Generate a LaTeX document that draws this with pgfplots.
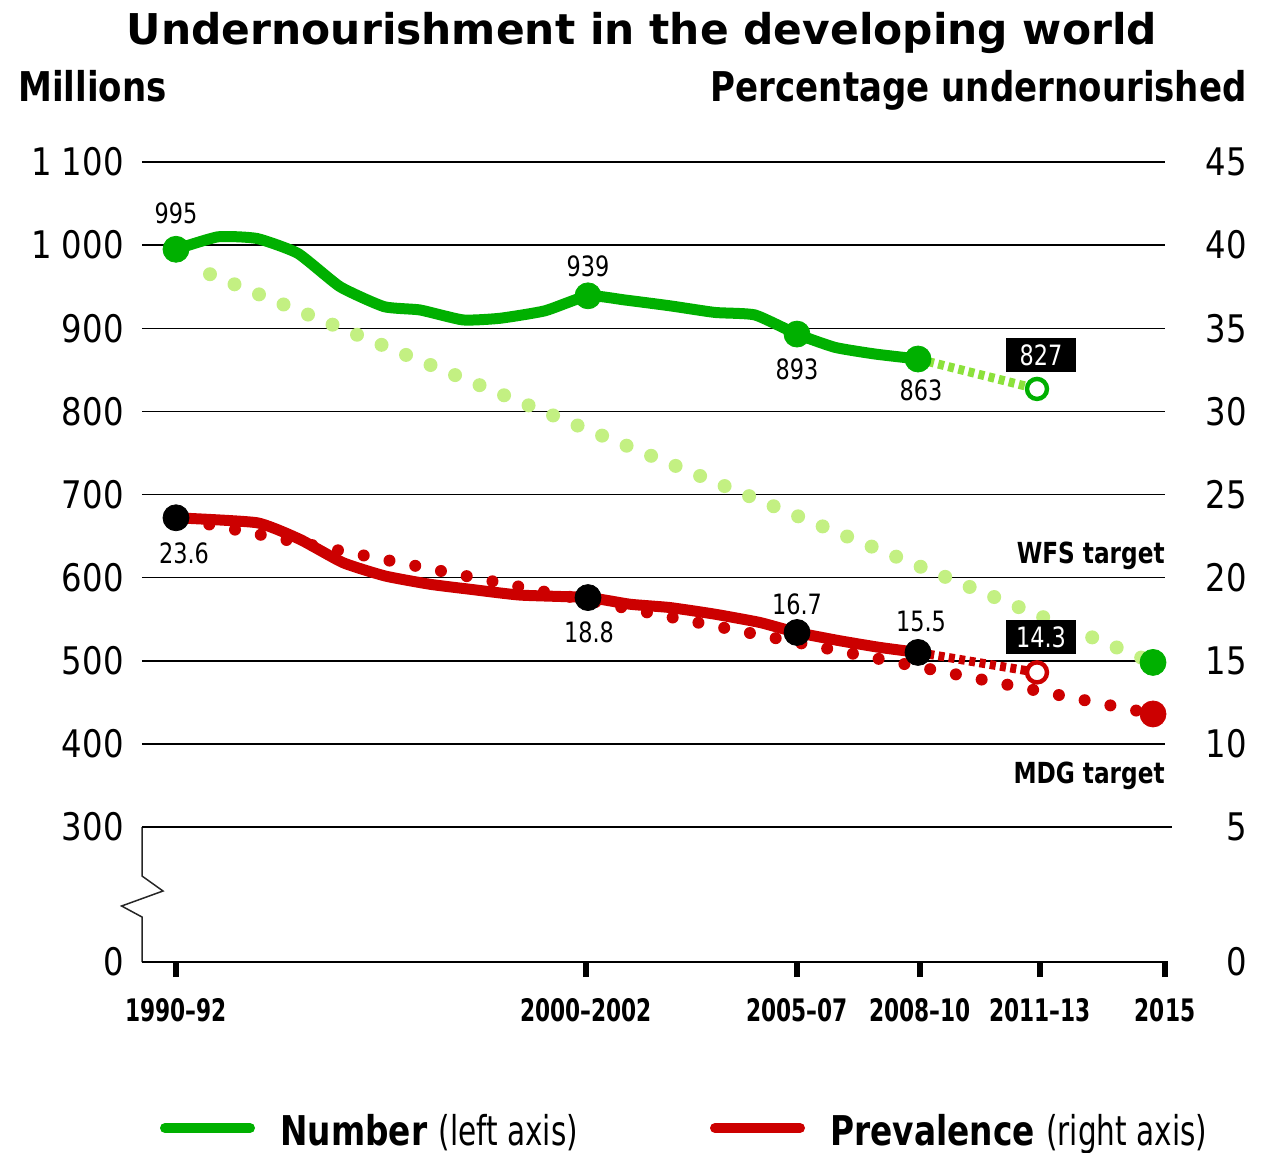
\documentclass[border=0pt]{standalone}
\usepackage{fontspec}
\setmainfont{DejaVu Sans}
\newfontfamily\tickf[FakeStretch=0.85]{DejaVu Sans}
\newfontfamily\lblf[FakeStretch=0.8]{DejaVu Sans}
\newfontfamily\xlf[FakeStretch=0.7]{DejaVu Sans}
\newfontfamily\ttlf[FakeStretch=0.83]{DejaVu Sans}
\newfontfamily\legrf[FakeStretch=0.72]{DejaVu Sans}
\usepackage{pgfplots}
\pgfplotsset{compat=1.18}
\definecolor{cgreen}{RGB}{0,176,0}
\definecolor{cred}{RGB}{204,0,0}
\definecolor{clight}{RGB}{195,240,130}
\definecolor{cproj}{RGB}{140,225,60}
\newcommand{\lbl}{\lblf\fontsize{14}{14}\selectfont}
\begin{document}
\begin{tikzpicture}
\path[use as bounding box] (-71pt,-95pt) rectangle (563pt,481pt);
\begin{axis}[
 at={(0pt,0pt)}, anchor=south west,
 width=511.5pt, height=400pt, scale only axis,
 xmin=142, xmax=1165, ymin=137.59, ymax=1100,
 axis line style={draw=none},
 ytick={137.59,300,400,500,600,700,800,900,1000,1100},
 yticklabels={0,300,400,500,600,700,800,900,1\hspace{0.25em}000,1\hspace{0.25em}100},
 ymajorgrids, grid style={black, line width=0.75pt},
 ytick style={draw=none},
 yticklabel style={anchor=east, inner sep=0pt, xshift=-1.5pt, font=\tickf\fontsize{19}{19}\selectfont},
 xtick={176,586,797,920,1040,1165},
 xticklabels={1990–92,2000–2002,2005–07,2008–10,2011–13,2015},
 xtick pos=left,
 tick align=outside,
 major tick length=7.5pt,
 xtick style={black, line width=3pt},
 xticklabel style={anchor=north, inner sep=0pt, yshift=-10.5pt, font=\xlf\bfseries\fontsize{15.5}{15.5}\selectfont},
 clip=false,
]
% WFS target path
\addplot[clight, line width=7pt, line cap=round, dash pattern=on 0pt off 13.25pt] coordinates {(210,965) (1153,498)};
% Number
\addplot[cgreen, line width=5.5pt, line join=round, line cap=round, smooth, tension=0.3] coordinates {
(176,995) (218,1010) (257,1008) (298,990) (340,950) (384,926) (420,922) (463,910) (500,912) (545,921) (588,939) (625,934) (670,927) (715,919) (755,916) (797,893) (835,877) (875,869) (918,863)};
\addplot[cproj, line width=4.5pt, dash pattern=on 3pt off 2.2pt] coordinates {(918,863) (1037,827)};
\addplot[only marks, mark=*, mark size=6.5pt, cgreen] coordinates {(176,995) (588,939) (797,893) (918,863) (1153,498)};
\addplot[only marks, mark=*, mark size=5pt, mark options={draw=cgreen, fill=white, line width=2.2pt}] coordinates {(1037,827)};
\end{axis}
\begin{axis}[
 at={(0pt,0pt)}, anchor=south west,
 width=511.5pt, height=400pt, scale only axis,
 xmin=142, xmax=1165, ymin=-3.1203, ymax=45,
 axis line style={draw=none},
 xtick=\empty,
 ytick={-3.1203,5,10,15,20,25,30,35,40,45},
 yticklabels={0,5,10,15,20,25,30,35,40,45},
 yticklabel pos=right,
 ytick style={draw=none},
 yticklabel style={anchor=east, inner sep=0pt, xshift=41pt, font=\tickf\fontsize{19}{19}\selectfont},
 clip=false,
]
% MDG target path
\addplot[cred, line width=6pt, line cap=round, dash pattern=on 0pt off 13.13pt, dash phase=9.3pt] coordinates {(176,23.6) (1153,11.8)};
% Prevalence
\addplot[cred, line width=5.5pt, line join=round, line cap=round, smooth, tension=0.3] coordinates {
(176,23.6) (257,23.3) (300,22.3) (343,20.9) (385,20.1) (430,19.6) (470,19.3) (520,18.95) (588,18.8) (630,18.4) (670,18.2) (715,17.8) (760,17.3) (797,16.7) (840,16.2) (880,15.8) (918,15.5)};
\addplot[cred, line width=4.5pt, dash pattern=on 3pt off 2.2pt] coordinates {(918,15.5) (1037,14.3)};
\addplot[only marks, mark=*, mark size=6.5pt, black] coordinates {(176,23.6) (588,18.8) (797,16.7) (918,15.5)};
\addplot[only marks, mark=*, mark size=6.5pt, cred] coordinates {(1153,11.8)};
\addplot[only marks, mark=*, mark size=5pt, mark options={draw=cred, fill=white, line width=2.2pt}] coordinates {(1037,14.3)};
\end{axis}
\begin{scope}[x=1pt, y=1pt]
% broken axis and base lines
\draw[black!85, line width=0.75pt, line join=miter] (0,67.5) -- (0,43) -- (10.5,35.5) -- (-10.2,28) -- (0,22.5) -- (0,0);
\draw[black, line width=0.75pt] (0,67.5) -- (515,67.5);
\draw[black, line width=0.75pt] (0,0) -- (513,0);
% value labels
\node[inner sep=0] at (17,374.5) {\lbl 995};
\node[inner sep=0] at (223,348) {\lbl 939};
\node[inner sep=0] at (327.5,296.5) {\lbl 893};
\node[inner sep=0] at (389.5,286) {\lbl 863};
\node[fill=black, text=white, inner sep=0, minimum width=35pt, minimum height=17pt] at (449.5,303.5) {\lbl 827};
\node[inner sep=0] at (21,204.5) {\lbl 23.6};
\node[inner sep=0] at (223.5,165) {\lbl 18.8};
\node[inner sep=0] at (327.5,179) {\lbl 16.7};
\node[inner sep=0] at (389.5,170.5) {\lbl 15.5};
\node[fill=black, text=white, inner sep=0, minimum width=35pt, minimum height=17pt] at (449.5,162.5) {\lbl 14.3};
\node[anchor=base east, inner sep=0] at (511.5,199.5) {\lblf\bfseries\fontsize{14.5}{14.5}\selectfont WFS target};
\node[anchor=base east, inner sep=0] at (511.5,89.5) {\lblf\bfseries\fontsize{14.5}{14.5}\selectfont MDG target};
% titles
\node[anchor=base, inner sep=0] at (250,458.5) {\bfseries\fontsize{21.2}{21.2}\selectfont Undernourishment in the developing world};
\node[anchor=base west, inner sep=0] at (-62,430) {\ttlf\bfseries\fontsize{20.5}{20.5}\selectfont Millions};
\node[anchor=base east, inner sep=0] at (552.5,430) {\ttlf\bfseries\fontsize{20.5}{20.5}\selectfont Percentage undernourished};
% legend
\draw[cgreen, line width=5pt, line cap=round] (11.5,-83) -- (54,-83);
\node[anchor=base west, inner sep=0] at (69,-91.5) {\lblf\bfseries\fontsize{20.5}{20.5}\selectfont Number \legrf\mdseries (left axis)};
\draw[cred, line width=5pt, line cap=round] (286.5,-83) -- (329,-83);
\node[anchor=base west, inner sep=0] at (344,-91.5) {\lblf\bfseries\fontsize{20.5}{20.5}\selectfont Prevalence \legrf\mdseries (right axis)};
\end{scope}
\end{tikzpicture}
\end{document}
